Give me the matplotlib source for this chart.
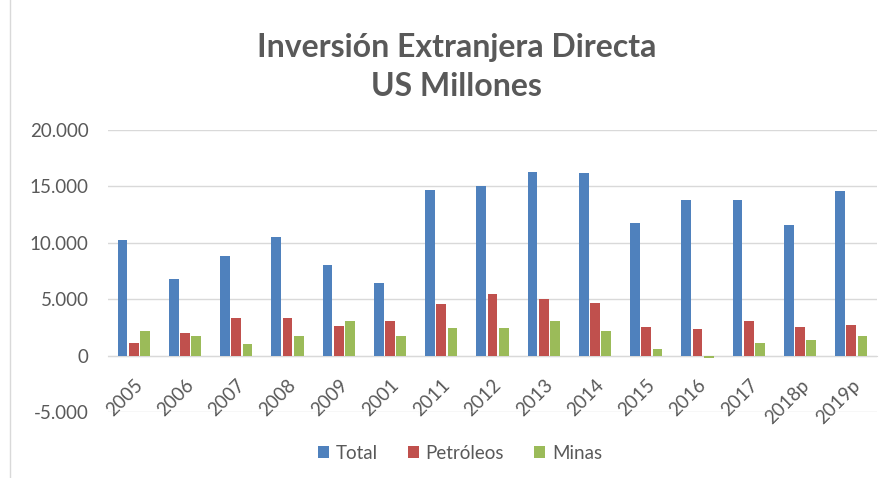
import numpy as np
import matplotlib.pyplot as plt
from matplotlib.ticker import FuncFormatter

years = ["2005", "2006", "2007", "2008", "2009", "2001", "2011", "2012",
         "2013", "2014", "2015", "2016", "2017", "2018p", "2019p"]
total = [10250, 6750, 8850, 10550, 8000, 6400, 14650, 15000,
         16250, 16150, 11750, 13800, 13800, 11550, 14550]
petroleos = [1150, 2000, 3300, 3300, 2650, 3100, 4600, 5450,
             5050, 4700, 2550, 2350, 3100, 2550, 2750]
minas = [2150, 1750, 1050, 1750, 3050, 1750, 2450, 2450,
         3100, 2150, 550, -200, 1100, 1400, 1750]

plt.rcParams['font.family'] = ['Lato', 'DejaVu Sans']
gray = "#595959"

fig = plt.figure(figsize=(8.93, 4.78), dpi=100)
ax = fig.add_axes([0.121, 0.138, 0.861, 0.590])

x = np.arange(len(years))
w = 0.19
ax.bar(x - 0.22, total, w, color="#4F81BD", label="Total", zorder=3)
ax.bar(x, petroleos, w, color="#C0504D", label="Petróleos", zorder=3)
ax.bar(x + 0.22, minas, w, color="#9BBB59", label="Minas", zorder=3)

ax.set_xlim(-0.5, len(years) - 0.5)
ax.set_ylim(-5000, 20000)
ax.set_yticks(range(-5000, 20001, 5000))
ax.yaxis.set_major_formatter(FuncFormatter(lambda v, p: "{:,.0f}".format(v).replace(",", ".")))
ax.grid(axis="y", color="#D9D9D9", lw=1, zorder=0)

for s in ["top", "right", "left"]:
    ax.spines[s].set_visible(False)
ax.spines["bottom"].set_position(("data", 0))
ax.spines["bottom"].set_color("#D9D9D9")
ax.spines["bottom"].set_zorder(2)

ax.set_xticks(x)
ax.set_xticklabels(years, rotation=45, ha="right", rotation_mode="anchor")
ax.tick_params(axis="x", length=0, pad=15, labelsize=13.5, labelcolor=gray)
ax.tick_params(axis="y", length=0, pad=14, labelsize=13.5, labelcolor=gray)

fig.text(0.511, 0.90, "Inversión Extranjera Directa", ha="center", va="center",
         fontsize=23, fontweight="bold", color=gray)
fig.text(0.511, 0.82, "US Millones", ha="center", va="center",
         fontsize=23, fontweight="bold", color=gray)

fig.legend(loc="center", bbox_to_anchor=(0.515, 0.052), ncol=3, frameon=False,
           fontsize=13.5, labelcolor=gray, handlelength=0.6, handleheight=0.6,
           handletextpad=0.35, columnspacing=1.6)

fig.add_artist(plt.Line2D([0.011, 0.011], [0.0, 1.0], color="#D9D9D9", lw=1))

fig.savefig("out.png", dpi=100)
